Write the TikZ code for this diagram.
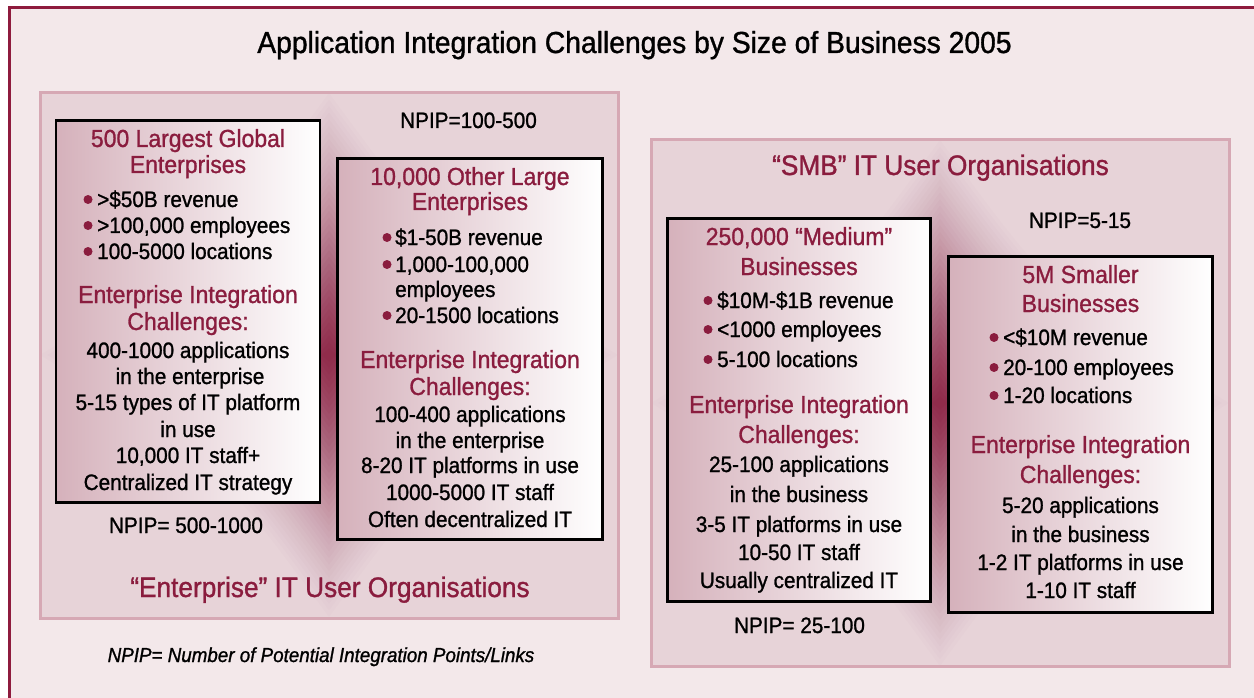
\documentclass[tikz,border=0pt]{standalone}
\usepackage{fontspec}
\setmainfont{Liberation Sans}[FakeStretch=0.93, FakeBold=1.1]
\definecolor{wine}{HTML}{8A1C3E}
\definecolor{framered}{HTML}{8E1B3D}
\definecolor{pagebg}{HTML}{F3E8EA}
\definecolor{panelbg}{HTML}{E7D3D8}
\definecolor{panelline}{HTML}{D6A8B4}
\definecolor{boxpink}{HTML}{D5B1BB}
\newcommand\titlesize{\fontsize{30.4}{36}\selectfont}
\newcommand\headsize{\fontsize{24.7}{28}\selectfont}
\newcommand\bodysize{\fontsize{22.3}{26}\selectfont}
\newcommand\orgsize{\fontsize{28.2}{32}\selectfont}
\newcommand\notesize{\fontsize{20.2}{24}\selectfont\itshape}
\tikzset{
  title/.style={font=\titlesize, text=black, anchor=base, inner sep=0pt},
  hd/.style={font=\headsize, text=wine, anchor=base, inner sep=0pt},
  tx/.style={font=\bodysize, text=black, anchor=base, inner sep=0pt},
  bl/.style={font=\bodysize, text=black, anchor=base west, inner sep=0pt},
  org/.style={font=\orgsize, text=wine, anchor=base, inner sep=0pt},
  note/.style={font=\notesize, text=black, anchor=base, inner sep=0pt},
  dot/.style={circle, fill=wine, inner sep=0pt, minimum size=9pt},
  infobox/.style={draw=black, line width=2.6pt, left color=boxpink, right color=white,
    inner sep=0pt},
}
% four-point glow: centre (#1,#2), half sizes #3 x #4
\newcommand\glowstar[4]{%
  \foreach \i in {1,...,40}{%
    \pgfmathsetmacro\s{1-(\i-1)/40}%
    \pgfmathsetmacro\a{1-exp(-0.15*exp(-2.5*\s))}%
    \fill[wine, fill opacity=\a]
      ({#1},{#2-\s*#4}) .. controls ({#1+0.4*\s*#3},{#2-0.4*\s*#4}) ..
      ({#1+\s*#3},{#2}) .. controls ({#1+0.4*\s*#3},{#2+0.4*\s*#4}) ..
      ({#1},{#2+\s*#4}) .. controls ({#1-0.4*\s*#3},{#2+0.4*\s*#4}) ..
      ({#1-\s*#3},{#2}) .. controls ({#1-0.4*\s*#3},{#2-0.4*\s*#4}) ..
      cycle;
  }%
}
\begin{document}
\begin{tikzpicture}[x=1pt, y=-1pt]
\useasboundingbox (0,0) rectangle (1254,698);
\clip (0,0) rectangle (1254,698);
\fill[white] (0,0) rectangle (1254,698);
% outer frame, running off the right and bottom edges
\draw[framered, line width=3pt, fill=pagebg] (9.5,7.5) rectangle (1275,720);

% panels with their central glow
\fill[panelbg] (40,93) rectangle (618,618);
\glowstar{329}{355}{289}{262}
\draw[panelline, line width=3pt] (40,93) rectangle (618,618);

\fill[panelbg] (651,140) rectangle (1229,666);
\glowstar{940}{403}{289}{263}
\draw[panelline, line width=3pt] (651,140) rectangle (1229,666);

% title
\node[title] (title) at (634.5,53) {Application Integration Challenges by Size of Business 2005};

% the four boxes
\node[infobox, minimum width=264pt, minimum height=382pt] (box1) at (188,311.5) {};
\node[infobox, minimum width=265pt, minimum height=381pt] (box2) at (470,349) {};
\node[infobox, minimum width=263pt, minimum height=383pt] (box3) at (799,410) {};
\node[infobox, minimum width=264pt, minimum height=356pt] (box4) at (1080.5,434.5) {};

% box 1
\node[hd] (b1h1) at (188,147) {500 Largest Global};
\node[hd] (b1h2) at (188,173) {Enterprises};
\node[dot] (b1d1) at (88,199.5) {};
\node[bl] (b1b1) at (97,207) {>\$50B revenue};
\node[dot] (b1d2) at (88,225.5) {};
\node[bl] (b1b2) at (97,233) {>100,000 employees};
\node[dot] (b1d3) at (88,251.5) {};
\node[bl] (b1b3) at (97,259) {100-5000 locations};
\node[hd] (b1c1) at (188,303) {Enterprise Integration};
\node[hd] (b1c2) at (188,330) {Challenges:};
\node[tx] (b1t1) at (188,358) {400-1000 applications};
\node[tx] (b1t2) at (190,384) {in the enterprise};
\node[tx] (b1t3) at (188,410) {5-15 types of IT platform};
\node[tx] (b1t4) at (188,437) {in use};
\node[tx] (b1t5) at (188,463) {10,000 IT staff+};
\node[tx] (b1t6) at (188,490) {Centralized IT strategy};

% box 2
\node[hd] (b2h1) at (470,185) {10,000 Other Large};
\node[hd] (b2h2) at (470,210) {Enterprises};
\node[dot] (b2d1) at (387,237.5) {};
\node[bl] (b2b1) at (395,245) {\$1-50B revenue};
\node[dot] (b2d2) at (387,264.5) {};
\node[bl] (b2b2) at (395,272) {1,000-100,000};
\node[bl] (b2b3) at (395,297) {employees};
\node[dot] (b2d3) at (387,315.5) {};
\node[bl] (b2b4) at (395,323) {20-1500 locations};
\node[hd] (b2c1) at (470,368) {Enterprise Integration};
\node[hd] (b2c2) at (470,395) {Challenges:};
\node[tx] (b2t1) at (470,422) {100-400 applications};
\node[tx] (b2t2) at (470,448) {in the enterprise};
\node[tx] (b2t3) at (470,473) {8-20 IT platforms in use};
\node[tx] (b2t4) at (470,500) {1000-5000 IT staff};
\node[tx] (b2t5) at (470,527) {Often decentralized IT};

% box 3
\node[hd] (b3h1) at (799,245) {250,000 “Medium”};
\node[hd] (b3h2) at (799,275) {Businesses};
\node[dot] (b3d1) at (708,300.5) {};
\node[bl] (b3b1) at (717,308) {\$10M-\$1B revenue};
\node[dot] (b3d2) at (708,329.5) {};
\node[bl] (b3b2) at (717,337) {<1000 employees};
\node[dot] (b3d3) at (708,359.5) {};
\node[bl] (b3b3) at (717,367) {5-100 locations};
\node[hd] (b3c1) at (799,413) {Enterprise Integration};
\node[hd] (b3c2) at (799,443) {Challenges:};
\node[tx] (b3t1) at (799,472) {25-100 applications};
\node[tx] (b3t2) at (799,502) {in the business};
\node[tx] (b3t3) at (799,532) {3-5 IT platforms in use};
\node[tx] (b3t4) at (799,560) {10-50 IT staff};
\node[tx] (b3t5) at (799,588) {Usually centralized IT};

% box 4
\node[hd] (b4h1) at (1080.5,283) {5M Smaller};
\node[hd] (b4h2) at (1080.5,312) {Businesses};
\node[dot] (b4d1) at (994,337.5) {};
\node[bl] (b4b1) at (1003,345) {<\$10M revenue};
\node[dot] (b4d2) at (994,367.5) {};
\node[bl] (b4b2) at (1003,375) {20-100 employees};
\node[dot] (b4d3) at (994,395.5) {};
\node[bl] (b4b3) at (1003,403) {1-20 locations};
\node[hd] (b4c1) at (1080.5,453) {Enterprise Integration};
\node[hd] (b4c2) at (1080.5,483) {Challenges:};
\node[tx] (b4t1) at (1080.5,513) {5-20 applications};
\node[tx] (b4t2) at (1080.5,542) {in the business};
\node[tx] (b4t3) at (1080.5,570) {1-2 IT platforms in use};
\node[tx] (b4t4) at (1080.5,598) {1-10 IT staff};

% NPIP labels
\node[tx] (np1) at (468.5,128) {NPIP=100-500};
\node[tx] (np2) at (186,533) {NPIP= 500-1000};
\node[tx] (np3) at (1080,228) {NPIP=5-15};
\node[tx] (np4) at (799.5,633) {NPIP= 25-100};

% panel captions and footnote
\node[org] (entorg) at (330,597) {“Enterprise” IT User Organisations};
\node[org] (smborg) at (940.5,175) {“SMB” IT User Organisations};
\node[note] (legend) at (321,662) {NPIP= Number of Potential Integration Points/Links};
\end{tikzpicture}
\end{document}
